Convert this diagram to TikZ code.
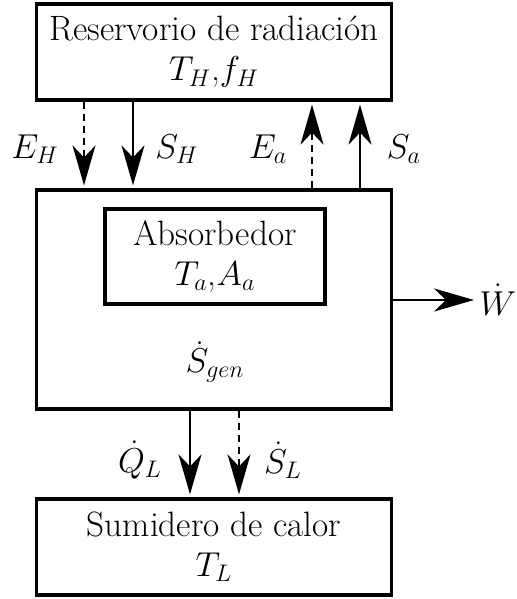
\documentclass[tikz,border=0pt]{standalone}
\usetikzlibrary{arrows.meta}
\begin{document}
\begin{tikzpicture}[x=0.5pt,y=-0.5pt,
  box/.style={draw,line width=1.6pt,inner sep=0pt,align=center,
    font=\fontsize{17.6}{20}\selectfont},
  flow/.style={line width=1pt,-{Stealth[length=20pt,width=11.5pt,inset=6pt]},shorten >=1.5pt},
  dflow/.style={flow,dash pattern=on 3.5pt off 2.5pt},
  lbl/.style={font=\fontsize{17.6}{20}\selectfont,inner sep=0pt}]
\useasboundingbox (0,0) rectangle (516,599);
\node[box,minimum width=177.5pt,minimum height=48pt] (top) at (214,52)
  {Reservorio de radiación\\ $T_H$,$f_H$};
\node[box,minimum width=177.5pt,minimum height=109.5pt] (mid) at (214,299.5) {};
\node[box,minimum width=110pt,minimum height=47.5pt] (abs) at (215,256.5)
  {Absorbedor\\ $T_a$,$A_a$};
\node[lbl] (sgen) at (215,362) {$\dot S_{gen}$};
\node[box,minimum width=177.5pt,minimum height=48pt] (bot) at (214,547)
  {Sumidero de calor\\ $T_L$};
% top flows
\draw[dflow] (top.south -| 84,0) -- (mid.north -| 84,0);
\draw[flow] (top.south -| 133,0) -- (mid.north -| 133,0);
\draw[dflow] (mid.north -| 312,0) -- (top.south -| 312,0);
\draw[flow] (mid.north -| 360,0) -- (top.south -| 360,0);
\node[lbl] (eh) at (35,149) {$E_H$};
\node[lbl] (sh) at (177,149) {$S_H$};
\node[lbl] (ea) at (268,149) {$E_a$};
\node[lbl] (sa) at (404,149) {$S_a$};
% work
\coordinate (wend) at (474,300);
\draw[flow,shorten >=0pt] (mid.east |- wend) -- (wend);
\node[lbl] (w) at (498,300) {$\dot W$};
% bottom flows
\draw[flow] (mid.south -| 190,0) -- (bot.north -| 190,0);
\draw[dflow] (mid.south -| 239,0) -- (bot.north -| 239,0);
\node[lbl] (ql) at (140,460) {$\dot Q_L$};
\node[lbl] (sl) at (283,460) {$\dot S_L$};
\end{tikzpicture}
\end{document}
